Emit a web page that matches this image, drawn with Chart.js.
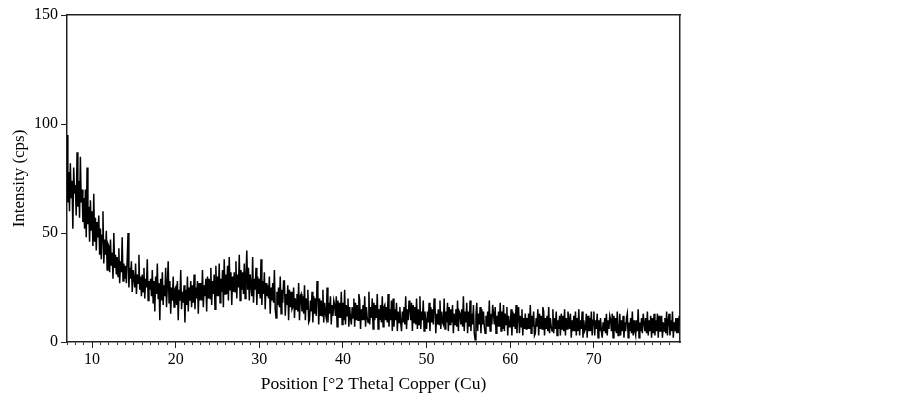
<!DOCTYPE html>
<html>
<head>
<meta charset="utf-8">
<script src="https://cdn.jsdelivr.net/npm/chart.js@4/dist/chart.umd.min.js"></script>
<style>
html,body{margin:0;padding:0;background:#fff;}
#wrap{width:903px;height:398px;position:relative;}
</style>
</head>
<body>
<div id="wrap"><canvas id="c" width="903" height="398"></canvas></div>
<script>
// Scan grid (°2θ)
const xStart = 7.0;
const xStep = 0.1;

// Intensity (cps), per 0.1° step
const seg07 = [
 95,64,78,60,82,66,74,52,80,68,
 72,58,87,62,74,57,85,64,70,55,
 66,52,70,48,80,54,62,46,65,51
];
const seg10 = [
 60,44,68,46,57,42,55,48,58,40,
 52,38,49,60,36,47,40,51,33,45,
 44,32,47,35,41,29,50,34,40,31,
 39,30,43,27,37,32,48,28,36,29,
 35,27,38,50,25,34,29,37,23,33,
 33,25,36,22,31,27,40,24,30,21,
 31,23,34,20,29,25,38,19,28,24,
 29,21,33,18,28,14,30,22,36,20,
 27,10,29,19,32,17,26,21,34,16,
 26,37,18,28,13,25,19,30,16,24
];
const seg20 = [
 25,17,28,10,24,19,33,15,23,18,
 26,9,24,17,30,14,25,19,28,16,
 26,18,31,15,25,20,28,13,27,19,
 27,19,33,16,26,21,29,14,30,20,
 29,20,34,17,28,22,31,15,35,21,
 30,21,36,18,29,23,33,16,38,22,
 31,22,35,19,39,24,32,17,30,23,
 32,23,37,20,31,25,40,19,33,24,
 32,22,36,20,30,42,24,34,19,31,
 31,21,39,18,29,24,34,17,30,22
];
const seg30 = [
 29,20,38,17,28,22,32,15,27,21,
 26,20,30,13,25,19,27,18,33,15,
 11,23,17,25,16,30,13,24,18,28,
 28,12,22,17,26,10,24,16,23,15,
 16,25,11,20,15,22,14,27,10,21,
 22,14,21,13,26,10,20,15,24,9,
 10,19,14,23,9,21,13,20,12,28,
 22,8,20,12,19,12,24,9,18,13,
 11,25,9,18,13,21,8,17,12,19,
 17,12,21,7,19,11,18,11,23,8
];
const seg40 = [
 18,10,24,8,17,12,20,7,16,11,
 8,16,11,20,7,18,10,17,10,22,
 19,6,15,10,17,10,21,7,16,11,
 9,23,8,16,11,20,6,18,10,17,
 11,22,6,15,10,17,9,21,7,16,
 17,10,16,9,22,7,15,10,19,5,
 20,7,15,10,18,5,14,9,16,9,
 5,14,9,16,8,21,6,15,10,19,
 15,10,18,5,17,9,16,8,20,6,
 15,8,21,6,14,10,19,5,14,9
];
const seg50 = [
 6,14,9,18,5,16,9,15,8,20,
 17,4,13,8,15,8,19,6,14,9,
 8,20,6,14,9,18,5,16,8,15,
 9,17,4,13,8,15,7,19,5,14,
 13,8,15,7,21,5,14,9,18,4,
 14,7,19,5,13,8,17,4,1,12,
 18,5,13,8,16,4,15,8,14,7,
 4,12,7,14,7,19,5,13,8,17,
 13,8,16,4,12,7,14,7,18,5,
 14,6,17,5,13,8,16,3,12,7
];
const seg60 = [
 7,15,3,14,7,13,6,17,4,12,
 16,4,12,7,15,3,11,6,13,6,
 11,6,13,6,17,4,12,7,14,3,
 4,11,7,15,3,13,6,12,6,16,
 14,3,11,6,12,5,16,4,11,7,
 5,15,4,11,6,14,3,10,6,12,
 3,13,6,12,5,15,3,11,6,14,
 11,6,13,2,10,5,12,5,14,3,
 11,5,15,3,10,6,14,2,10,5,
 6,13,2,12,5,11,5,14,3,10
];
const seg70 = [
 14,3,10,6,13,2,10,5,11,5,
 2,9,5,11,4,13,3,10,6,12,
 10,5,13,2,12,5,11,4,14,3,
 4,13,3,10,5,12,2,9,5,11,
 13,2,9,5,11,4,14,3,10,5,
 3,10,5,15,2,9,5,11,4,13,
 9,5,11,4,14,3,10,5,12,2,
 11,4,13,3,10,5,13,2,12,5,
 5,12,2,9,5,11,4,14,3,10,
 13,3,10,5,14,2,9,5,11,4,
 11,4,12
];

const xMin = 7, xMax = 80.3;
const yMin = 0, yMax = 150;
const xMajorStep = 10, xMinorStep = 1, yStep = 50;
const xLabelMax = 70;
const xTitle = 'Position [°2 Theta] Copper (Cu)';
const yTitle = 'Intensity (cps)';

const intensity = [].concat(seg07, seg10, seg20, seg30, seg40, seg50, seg60, seg70);
const points = intensity.map((v, i) => ({ x: +(xStart + i * xStep).toFixed(1), y: v }));

const FONT = 'Liberation Serif';
const isMajor = v => Math.abs(v % xMajorStep) < 1e-9 && v <= xLabelMax;

new Chart(document.getElementById('c'), {
  type: 'line',
  data: {
    datasets: [{
      data: points,
      borderColor: '#000',
      borderWidth: 1.5,
      pointRadius: 0,
      tension: 0,
      fill: false
    }]
  },
  options: {
    responsive: false,
    animation: false,
    events: [],
    plugins: { legend: { display: false }, tooltip: { enabled: false } },
    layout: { padding: { left: 0, top: 15, right: 223, bottom: 0 } },
    scales: {
      xMinor: {
        type: 'linear', position: 'bottom', weight: 0,
        min: xMin, max: xMax,
        ticks: { display: false, stepSize: xMinorStep, autoSkip: false },
        grid: {
          drawOnChartArea: false, drawTicks: true, tickLength: 3,
          tickColor: ctx => Number.isInteger(Math.round(ctx.tick.value * 1000) / 1000) ? '#333' : 'rgba(0,0,0,0)',
          tickWidth: 1
        },
        border: { display: true, color: '#222', width: 1.5 },
        afterFit: s => { s.height = 0; }
      },
      x: {
        type: 'linear', position: 'bottom', weight: 1,
        min: xMin, max: xMax,
        ticks: {
          stepSize: xMajorStep, autoSkip: false, maxRotation: 0,
          color: '#000', font: { family: FONT, size: 16 }, padding: 2,
          callback: v => isMajor(v) ? String(v) : ''
        },
        grid: {
          drawOnChartArea: false, drawTicks: true, tickLength: 6,
          tickColor: ctx => isMajor(ctx.tick.value) ? '#222' : 'rgba(0,0,0,0)',
          tickWidth: 1
        },
        border: { display: false },
        title: { display: true, text: xTitle, color: '#000', font: { family: FONT, size: 17.5 }, padding: { top: 0, bottom: 3 } },
        afterFit: s => { s.height = 56; }
      },
      x2: {
        type: 'linear', position: 'top', min: xMin, max: xMax,
        ticks: { display: false }, grid: { display: false },
        border: { display: true, color: '#222', width: 1.5 },
        afterFit: s => { s.height = 0; }
      },
      y: {
        type: 'linear', position: 'left',
        min: yMin, max: yMax,
        ticks: { stepSize: yStep, color: '#000', font: { family: FONT, size: 16 }, padding: 3 },
        grid: { drawOnChartArea: false, drawTicks: true, tickLength: 6, tickColor: '#222' },
        border: { display: true, color: '#222', width: 1.5 },
        title: { display: true, text: yTitle, color: '#000', font: { family: FONT, size: 17 }, padding: { top: 9, bottom: 0 } },
        afterFit: s => { s.width = 67; }
      },
      y2: {
        type: 'linear', position: 'right', min: yMin, max: yMax,
        ticks: { display: false }, grid: { display: false },
        border: { display: true, color: '#222', width: 1.5 },
        afterFit: s => { s.width = 0; }
      }
    }
  }
});
</script>
</body>
</html>
